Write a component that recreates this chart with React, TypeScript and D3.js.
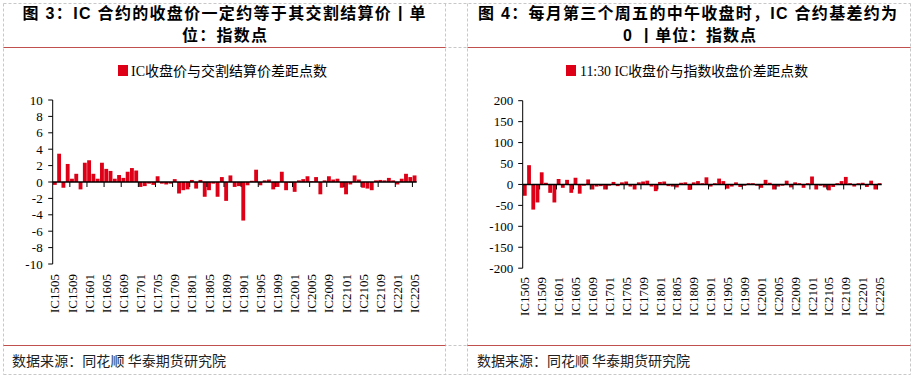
import React from "react";
import * as d3 from "d3";

const contracts = [
  "IC1505","IC1506","IC1507","IC1508","IC1509","IC1510","IC1511","IC1512",
  "IC1601","IC1602","IC1603","IC1604","IC1605","IC1606","IC1607","IC1608","IC1609","IC1610","IC1611","IC1612",
  "IC1701","IC1702","IC1703","IC1704","IC1705","IC1706","IC1707","IC1708","IC1709","IC1710","IC1711","IC1712",
  "IC1801","IC1802","IC1803","IC1804","IC1805","IC1806","IC1807","IC1808","IC1809","IC1810","IC1811","IC1812",
  "IC1901","IC1902","IC1903","IC1904","IC1905","IC1906","IC1907","IC1908","IC1909","IC1910","IC1911","IC1912",
  "IC2001","IC2002","IC2003","IC2004","IC2005","IC2006","IC2007","IC2008","IC2009","IC2010","IC2011","IC2012",
  "IC2101","IC2102","IC2103","IC2104","IC2105","IC2106","IC2107","IC2108","IC2109","IC2110","IC2111","IC2112",
  "IC2201","IC2202","IC2203","IC2204","IC2205",
];

const tickLabels = [
  "IC1505","IC1509","IC1601","IC1605","IC1609","IC1701","IC1705","IC1709","IC1801","IC1805","IC1809",
  "IC1901","IC1905","IC1909","IC2001","IC2005","IC2009","IC2101","IC2105","IC2109","IC2201","IC2205",
];

// IC收盘价与交割结算价差距点数
const settleDiff = [
  -0.35, 3.45, -0.7, 2.2, 0.4, 1.0, -0.9, 2.35, 2.65, 1.0,
  0.4, 2.35, 1.6, 1.35, 0.4, 0.85, 0.5, 1.25, 1.7, 1.4,
  -0.6, -0.5, -0.2, -0.35, 0.7, -0.2, -0.3, -0.2, 0.35, -1.4,
  -1.0, -0.9, 0.25, -0.8, 0.25, -1.8, -1.0, -0.2, -1.8, 0.6,
  -2.3, 0.8, -0.6, -0.5, -4.7, -0.4, 0.15, 1.5, -0.4, 0.2,
  0.3, -0.9, -0.6, 1.25, -1.0, -0.1, -1.2, 0.2, 0.35, 0.7,
  0.1, 0.6, -1.5, 0.2, 0.7, 0.3, 0.4, -0.7, -1.5, -0.3,
  0.8, 0.3, -0.7, -0.8, -1.0, 0.2, 0.25, 0.2, 0.5, 0.2,
  -0.3, 0.4, 1.0, 0.6, 0.8,
];

// 11:30 IC收盘价与指数收盘价差距点数
const noonDiff = [
  -27, 46, -60, -43, 29, 4, -20, -43, 13, -8,
  11, -20, 16, -22, -3, 12, -12, -5, -4, -12,
  -3, 6, -4, 5, 7, -5, -12, 5, 7, 9,
  -5, -16, 6, 7, -4, -5, -7, 4, 5, -13,
  5, 8, 3, 17, -5, 3, 14, 8, -10, -5,
  5, -6, -3, 3, 3, -3, -8, 11, 4, -12,
  -5, -3, 9, -7, 5, 3, -8, 3, 19, -12,
  -3, -7, -14, -6, 3, 8, 18, 3, -5, 3,
  4, -6, 9, -12, 3,
];

const leftYTicks = [-10, -8, -6, -4, -2, 0, 2, 4, 6, 8, 10];
const rightYTicks = [-200, -150, -100, -50, 0, 50, 100, 150, 200];

const SERIF = "'Liberation Serif','Times New Roman','Noto Sans CJK SC',serif";
const BOLD = "'Liberation Sans','Arial','Noto Sans CJK SC',sans-serif";
const CJK = "'Noto Sans CJK SC','Liberation Serif',sans-serif";
const RED = "#DD0016";
const RULE = "#C0504D";
const GRID = "#C8C8C8";

type PanelProps = {
  values: number[];
  yDomain: [number, number];
  yTicks: number[];
  axisX0: number;
  axisX1: number;
  yTop: number;
  yBottom: number;
  labelTop: number;
  labelGap: number;
};

function BarPanel({ values, yDomain, yTicks, axisX0, axisX1, yTop, yBottom, labelTop, labelGap }: PanelProps) {
  const x = d3
    .scaleBand<string>()
    .domain(contracts)
    .range([axisX0, axisX1])
    .paddingInner(0.1)
    .paddingOuter(0.05);
  const y = d3.scaleLinear().domain(yDomain).range([yBottom, yTop]);
  const step = x.step();
  const y0 = y(0);
  const boundaries = d3.range(4, contracts.length + 1, 4).map((i) => axisX0 + i * step);
  return (
    <g>
      {values.map((v, i) => (
        <rect
          key={i}
          x={x(contracts[i])!}
          width={x.bandwidth()}
          y={Math.min(y(v), y0)}
          height={Math.abs(y(v) - y0)}
          fill={RED}
        />
      ))}
      <line x1={axisX0} x2={axisX1} y1={y0} y2={y0} stroke="#000" strokeWidth={1.5} />
      {boundaries.map((bx, i) => (
        <line key={i} x1={bx} x2={bx} y1={y0} y2={y0 + 5} stroke="#000" strokeWidth={1} />
      ))}
      <line x1={axisX0} x2={axisX0} y1={yTop} y2={yBottom} stroke="#000" strokeWidth={1} />
      {yTicks.map((t) => (
        <g key={t}>
          <line x1={axisX0 - 4.5} x2={axisX0} y1={y(t)} y2={y(t)} stroke="#000" strokeWidth={1} />
          <text
            x={axisX0 - labelGap}
            y={y(t)}
            dy="0.35em"
            textAnchor="end"
            fontFamily={SERIF}
            fontSize={13}
            fill="#000"
          >
            {t}
          </text>
        </g>
      ))}
      {tickLabels.map((lbl) => {
        const cx = x(lbl)! + x.bandwidth() / 2;
        return (
          <text
            key={lbl}
            transform={`translate(${cx},${labelTop}) rotate(-90)`}
            dy="0.35em"
            textAnchor="end"
            fontFamily={SERIF}
            fontSize={13}
            fill="#000"
          >
            {lbl}
          </text>
        );
      })}
    </g>
  );
}

export default function App() {
  const W = 914;
  const H = 377;
  const L = 3.5, M1 = 445.5, M2 = 467.5, R = 910.5;
  const T = 3.5, RT = 47.5, RB = 345.5, B = 374.5;
  return (
    <div style={{ position: "absolute", left: 0, top: 0 }}>
      <svg width={W} height={H} style={{ display: "block", background: "#fff" }}>
        <rect x={0} y={0} width={W} height={H} fill="#fff" />
        {/* dashed table grid */}
        <g stroke={GRID} strokeWidth={1} strokeDasharray="3,2" fill="none">
          {[T, RT, RB, B].map((yy) => (
            <line key={"h" + yy} x1={L} x2={R} y1={yy} y2={yy} />
          ))}
          {[L, M1, M2, R].map((xx) => (
            <line key={"v" + xx} x1={xx} x2={xx} y1={T} y2={B} />
          ))}
        </g>
        {/* solid rules */}
        <g stroke={RULE} strokeWidth={1}>
          <line x1={L} x2={M1} y1={RT} y2={RT} />
          <line x1={M2} x2={R} y1={RT} y2={RT} />
          <line x1={L} x2={M1} y1={RB} y2={RB} />
          <line x1={M2} x2={R} y1={RB} y2={RB} />
        </g>
        {/* titles */}
        <g fontFamily={BOLD} fontWeight="bold" fontSize={16} fill="#000" textAnchor="middle">
          <text x={224} y={13} dominantBaseline="central" textLength={403} lengthAdjust="spacing">
            图 3：IC 合约的收盘价一定约等于其交割结算价丨单
          </text>
          <text x={224.5} y={35} dominantBaseline="central" textLength={85} lengthAdjust="spacing">
            位：指数点
          </text>
          <text x={687.5} y={13} dominantBaseline="central" textLength={419} lengthAdjust="spacing">
            图 4：每月第三个周五的中午收盘时，IC 合约基差约为
          </text>
          <text x={689.5} y={35} dominantBaseline="central" textLength={133} lengthAdjust="spacing">
            0 丨单位：指数点
          </text>
        </g>
        {/* legends */}
        <rect x={118} y={65} width={10} height={11} fill={RED} />
        <text x={131} y={71} dominantBaseline="central" fontFamily={SERIF} fontSize={14} fill="#000" textLength={196} lengthAdjust="spacingAndGlyphs">
          IC收盘价与交割结算价差距点数
        </text>
        <rect x={566} y={65} width={10} height={11} fill={RED} />
        <text x={580} y={71} dominantBaseline="central" fontFamily={SERIF} fontSize={14} fill="#000" textLength={228} lengthAdjust="spacingAndGlyphs">
          11:30 IC收盘价与指数收盘价差距点数
        </text>
        <BarPanel
          values={settleDiff}
          yDomain={[-10, 10]}
          yTicks={leftYTicks}
          axisX0={52.7}
          axisX1={416.7}
          yTop={100}
          yBottom={264}
          labelTop={274}
          labelGap={10}
        />
        <BarPanel
          values={noonDiff}
          yDomain={[-200, 200]}
          yTicks={rightYTicks}
          axisX0={522.7}
          axisX1={881.7}
          yTop={100.7}
          yBottom={268.2}
          labelTop={277}
          labelGap={9.5}
        />
        {/* footers */}
        <g fontFamily={CJK} fontSize={14} fill="#222">
          <text x={12} y={360} dominantBaseline="central" textLength={214} lengthAdjust="spacing">
            数据来源：同花顺 华泰期货研究院
          </text>
          <text x={477} y={360} dominantBaseline="central" textLength={213} lengthAdjust="spacing">
            数据来源：同花顺 华泰期货研究院
          </text>
        </g>
      </svg>
    </div>
  );
}
